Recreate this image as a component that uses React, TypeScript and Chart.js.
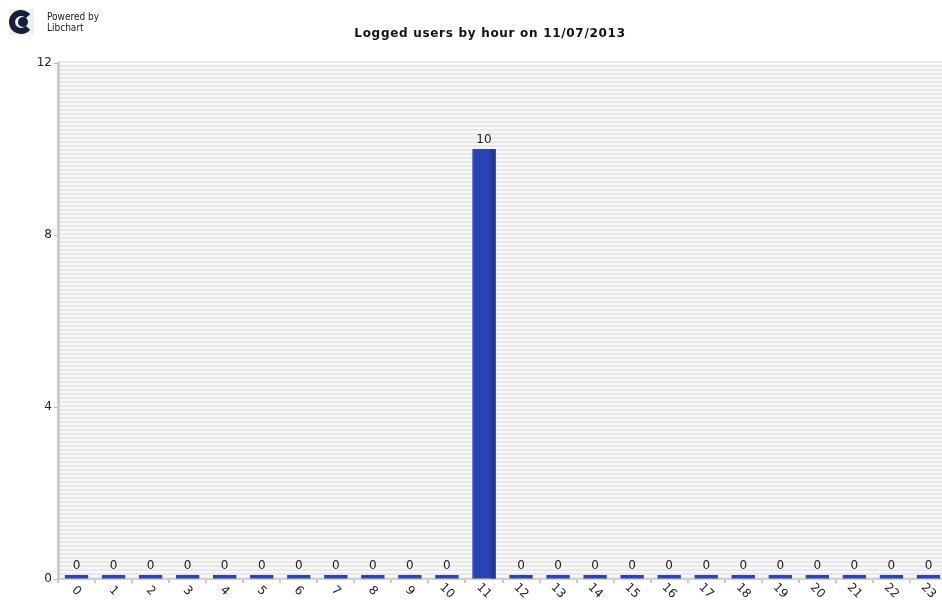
import React, { useEffect, useRef } from "react";
import { Chart, registerables } from "chart.js";

Chart.register(...registerables);

const hours: string[] = [
  "0", "1", "2", "3", "4", "5", "6", "7", "8", "9", "10", "11",
  "12", "13", "14", "15", "16", "17", "18", "19", "20", "21", "22", "23",
];
const loggedUsers: number[] = [
  0, 0, 0, 0, 0, 0, 0, 0, 0, 0, 0, 10,
  0, 0, 0, 0, 0, 0, 0, 0, 0, 0, 0, 0,
];
const titleText = "Logged users by hour on 11/07/2013";
const yMax = 12;
const yStep = 4;

const FONT = "DejaVu Sans";

const decorPlugin = {
  id: "decor",
  beforeDraw(chart: any) {
    const { ctx, chartArea } = chart;
    ctx.save();
    // striped background
    const top = chartArea.top - 2;
    ctx.fillStyle = "#f8f8f8";
    ctx.fillRect(chartArea.left, top, chartArea.right - chartArea.left, chartArea.bottom - top);
    ctx.fillStyle = "#e8e8e8";
    for (let y = top; y < chartArea.bottom; y += 4) {
      ctx.fillRect(chartArea.left, y, chartArea.right - chartArea.left, 2);
    }
    // title
    ctx.fillStyle = "#111";
    ctx.font = `bold 12px "${FONT}"`;
    (ctx as any).letterSpacing = "0.7px";
    ctx.textAlign = "center";
    ctx.textBaseline = "middle";
    ctx.fillText(titleText, 490, 34);
    (ctx as any).letterSpacing = "0px";
    // logo
    ctx.fillStyle = "#eef0f3";
    ctx.fillRect(9, 9, 25, 26);
    ctx.strokeStyle = "#16203a";
    ctx.lineWidth = 6;
    ctx.beginPath();
    ctx.arc(21, 22, 9, (40 * Math.PI) / 180, (320 * Math.PI) / 180);
    ctx.stroke();
    ctx.fillStyle = "#16203a";
    ctx.beginPath();
    ctx.arc(23, 22, 5, 0, Math.PI * 2);
    ctx.fill();
    ctx.fillStyle = "#222";
    ctx.font = `10px "DejaVu Sans Condensed", "${FONT}"`;
    ctx.textAlign = "left";
    ctx.textBaseline = "alphabetic";
    ctx.fillText("Powered by", 47, 20);
    ctx.fillText("Libchart", 47, 31);
    ctx.restore();
  },
  afterDatasetsDraw(chart: any) {
    const { ctx } = chart;
    const meta = chart.getDatasetMeta(0);
    const xScale = chart.scales.x;
    ctx.save();
    meta.data.forEach((bar: any, i: number) => {
      const props = bar.getProps(["x", "y", "base", "width"], true);
      const left = props.x - props.width / 2;
      const right = props.x + props.width / 2;
      const h = props.base - props.y;
      if (h > 6) {
        ctx.fillStyle = "#22389a";
        ctx.fillRect(right - 5, props.y, 5, h);
        ctx.fillStyle = "rgba(120,140,220,0.6)";
        ctx.fillRect(left, props.y, 1, h);
      }
      // value label
      ctx.fillStyle = "#222";
      ctx.font = `12px "${FONT}"`;
      ctx.textAlign = "center";
      ctx.textBaseline = "alphabetic";
      const topY = Math.min(props.y, props.base);
      ctx.fillText(String(loggedUsers[i]), props.x, topY - 6);
      // x label rotated
      const cx = xScale.getPixelForValue(i);
      ctx.save();
      ctx.translate(cx, 591);
      ctx.rotate(Math.PI / 4);
      ctx.textAlign = "center";
      ctx.textBaseline = "middle";
      ctx.fillStyle = "#222";
      ctx.fillText(hours[i], 0, 0);
      ctx.restore();
    });
    ctx.restore();
  },
};

export default function App() {
  const ref = useRef<HTMLCanvasElement | null>(null);
  useEffect(() => {
    if (!ref.current) return;
    const chart = new Chart(ref.current, {
      type: "bar",
      data: {
        labels: hours,
        datasets: [
          {
            data: loggedUsers,
            backgroundColor: "#2b44b5",
            borderWidth: 0,
            minBarLength: 4,
            barPercentage: 0.63,
            categoryPercentage: 1,
          },
        ],
      },
      options: {
        animation: false,
        responsive: false,
        maintainAspectRatio: false,
        layout: { padding: { top: 63, right: 33, bottom: 0, left: 0 } },
        plugins: {
          legend: { display: false },
          title: { display: false },
          tooltip: { enabled: false },
        },
        scales: {
          x: {
            offset: true,
            grid: {
              display: true,
              offset: true,
              drawOnChartArea: false,
              drawTicks: true,
              tickLength: 4,
              color: "#c8c8c8",
              lineWidth: 2,
            },
            border: { display: true, color: "#d0d0d0", width: 2 },
            ticks: { display: false },
            afterFit: (scale: any) => {
              scale.height = 26;
            },
          },
          y: {
            min: 0,
            max: yMax,
            ticks: {
              stepSize: yStep,
              color: "#222",
              font: { family: FONT, size: 12 },
              padding: 2,
            },
            grid: {
              display: true,
              drawOnChartArea: false,
              drawTicks: true,
              tickLength: 4,
              color: "#b0b0b0",
              lineWidth: 1,
            },
            border: { display: true, color: "#cccccc", width: 3 },
            afterFit: (scale: any) => {
              scale.width = 58;
            },
          },
        },
      },
      plugins: [decorPlugin],
    });
    return () => chart.destroy();
  }, []);
  return (
    <div
      style={{
        position: "fixed",
        left: 0,
        top: 0,
        width: 942,
        height: 605,
        overflow: "hidden",
        background: "#fff",
      }}
    >
      <canvas ref={ref} width={980} height={605} style={{ display: "block" }} />
    </div>
  );
}
